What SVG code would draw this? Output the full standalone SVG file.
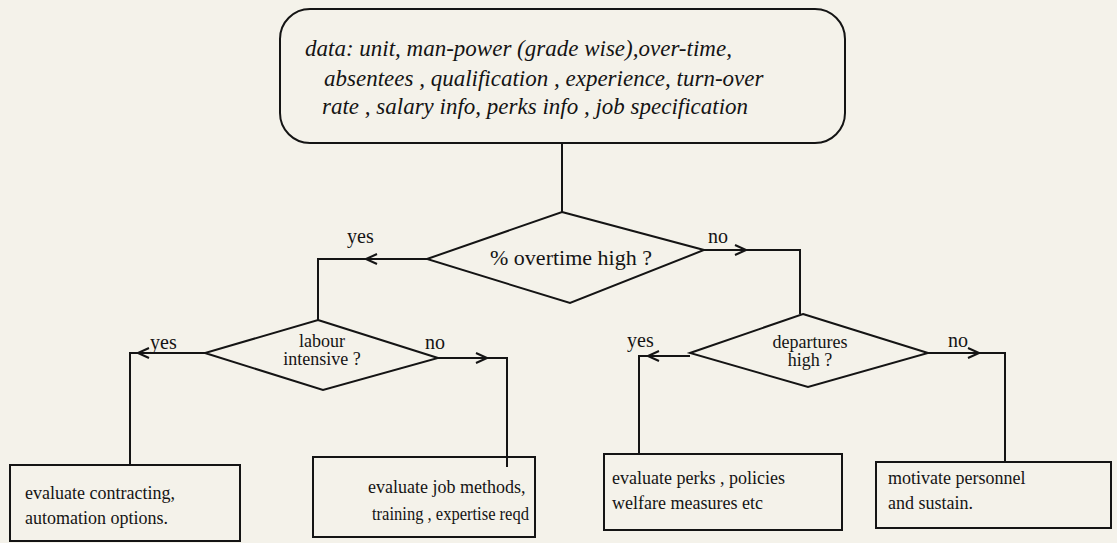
<svg xmlns="http://www.w3.org/2000/svg" width="1117" height="543" viewBox="0 0 1117 543">
  <style>
    .bg { fill: #f4f2ea; }
    .shape { fill: none; stroke: #141414; stroke-width: 2; stroke-linejoin: miter; }
    .wire { fill: none; stroke: #141414; stroke-width: 2; }
    .t { font-family: "Liberation Serif", "Times New Roman", serif; fill: #141414; }
    .data { font-size: 23px; font-style: italic; }
    .q { font-size: 22px; text-anchor: middle; }
    .q2 { font-size: 18px; text-anchor: middle; }
    .lbl { font-size: 20px; }
    .box { font-size: 18px; }
  </style>
  <defs>
    <marker id="chev" markerUnits="userSpaceOnUse" markerWidth="14" markerHeight="14" viewBox="-1 -7 14 14" refX="11" refY="0" orient="auto">
      <path d="M0,-5 L11,0 L0,5" fill="none" stroke="#141414" stroke-width="2"/>
    </marker>
  </defs>

  <rect class="bg" x="0" y="0" width="1117" height="543"/>

  <!-- connectors -->
  <g id="connectors">
    <path class="wire" d="M562,143 V212"/>
    <!-- % overtime: yes -->
    <path class="wire" d="M427,259 H366" marker-end="url(#chev)"/>
    <path class="wire" d="M366,259 H318 V320"/>
    <!-- % overtime: no -->
    <path class="wire" d="M704,250 H746" marker-end="url(#chev)"/>
    <path class="wire" d="M746,250 H800 V314"/>
    <!-- labour intensive: yes -->
    <path class="wire" d="M205,353 H138" marker-end="url(#chev)"/>
    <path class="wire" d="M138,353 H130 V465"/>
    <!-- labour intensive: no -->
    <path class="wire" d="M438,358 H487" marker-end="url(#chev)"/>
    <path class="wire" d="M487,358 H507 V467"/>
    <!-- departures: yes -->
    <path class="wire" d="M690,356 H648" marker-end="url(#chev)"/>
    <path class="wire" d="M648,356 H639 V454"/>
    <!-- departures: no -->
    <path class="wire" d="M928,353 H979" marker-end="url(#chev)"/>
    <path class="wire" d="M979,353 H1005 V462"/>
  </g>

  <!-- branch labels -->
  <g id="labels">
    <text class="t lbl" x="347" y="243">yes</text>
    <text class="t lbl" x="708" y="243">no</text>
    <text class="t lbl" x="150" y="349">yes</text>
    <text class="t lbl" x="425" y="349">no</text>
    <text class="t lbl" x="627" y="347">yes</text>
    <text class="t lbl" x="948" y="347">no</text>
  </g>

  <g id="data-input">
    <rect class="shape" x="280" y="9" width="565" height="134" rx="30" ry="30"/>
    <text class="t data" x="305" y="56">data: unit, man-power (grade wise),over-time,</text>
    <text class="t data" x="324" y="86">absentees , qualification , experience, turn-over</text>
    <text class="t data" x="322" y="114">rate , salary info, perks info , job specification</text>
  </g>

  <g id="overtime-decision">
    <path class="shape" d="M562,212 L704,250 L570,303 L427,259 Z"/>
    <text class="t q" x="571" y="265">% overtime high ?</text>
  </g>

  <g id="labour-decision">
    <path class="shape" d="M318,320 L438,358 L323,390 L205,353 Z"/>
    <text class="t q2" x="322" y="347">labour</text>
    <text class="t q2" x="322" y="365">intensive ?</text>
  </g>

  <g id="departures-decision">
    <path class="shape" d="M803,314 L928,353 L808,387 L690,353 Z"/>
    <text class="t q2" x="810" y="348">departures</text>
    <text class="t q2" x="810" y="366">high ?</text>
  </g>

  <g id="contracting-box">
    <rect class="shape" x="10" y="465" width="230" height="76"/>
    <text class="t box" x="25" y="499">evaluate contracting,</text>
    <text class="t box" x="25" y="524">automation options.</text>
  </g>

  <g id="job-methods-box">
    <rect class="shape" x="313" y="457" width="222" height="80"/>
    <text class="t box" x="368" y="493">evaluate job methods,</text>
    <text class="t box" x="372" y="520" textLength="157" lengthAdjust="spacingAndGlyphs">training , expertise reqd</text>
  </g>

  <g id="perks-box">
    <rect class="shape" x="604" y="454" width="238" height="76"/>
    <text class="t box" x="612" y="484">evaluate perks , policies</text>
    <text class="t box" x="612" y="509">welfare measures etc</text>
  </g>

  <g id="motivate-box">
    <rect class="shape" x="876" y="462" width="235" height="66"/>
    <text class="t box" x="888" y="484">motivate personnel</text>
    <text class="t box" x="888" y="509">and sustain.</text>
  </g>
</svg>
